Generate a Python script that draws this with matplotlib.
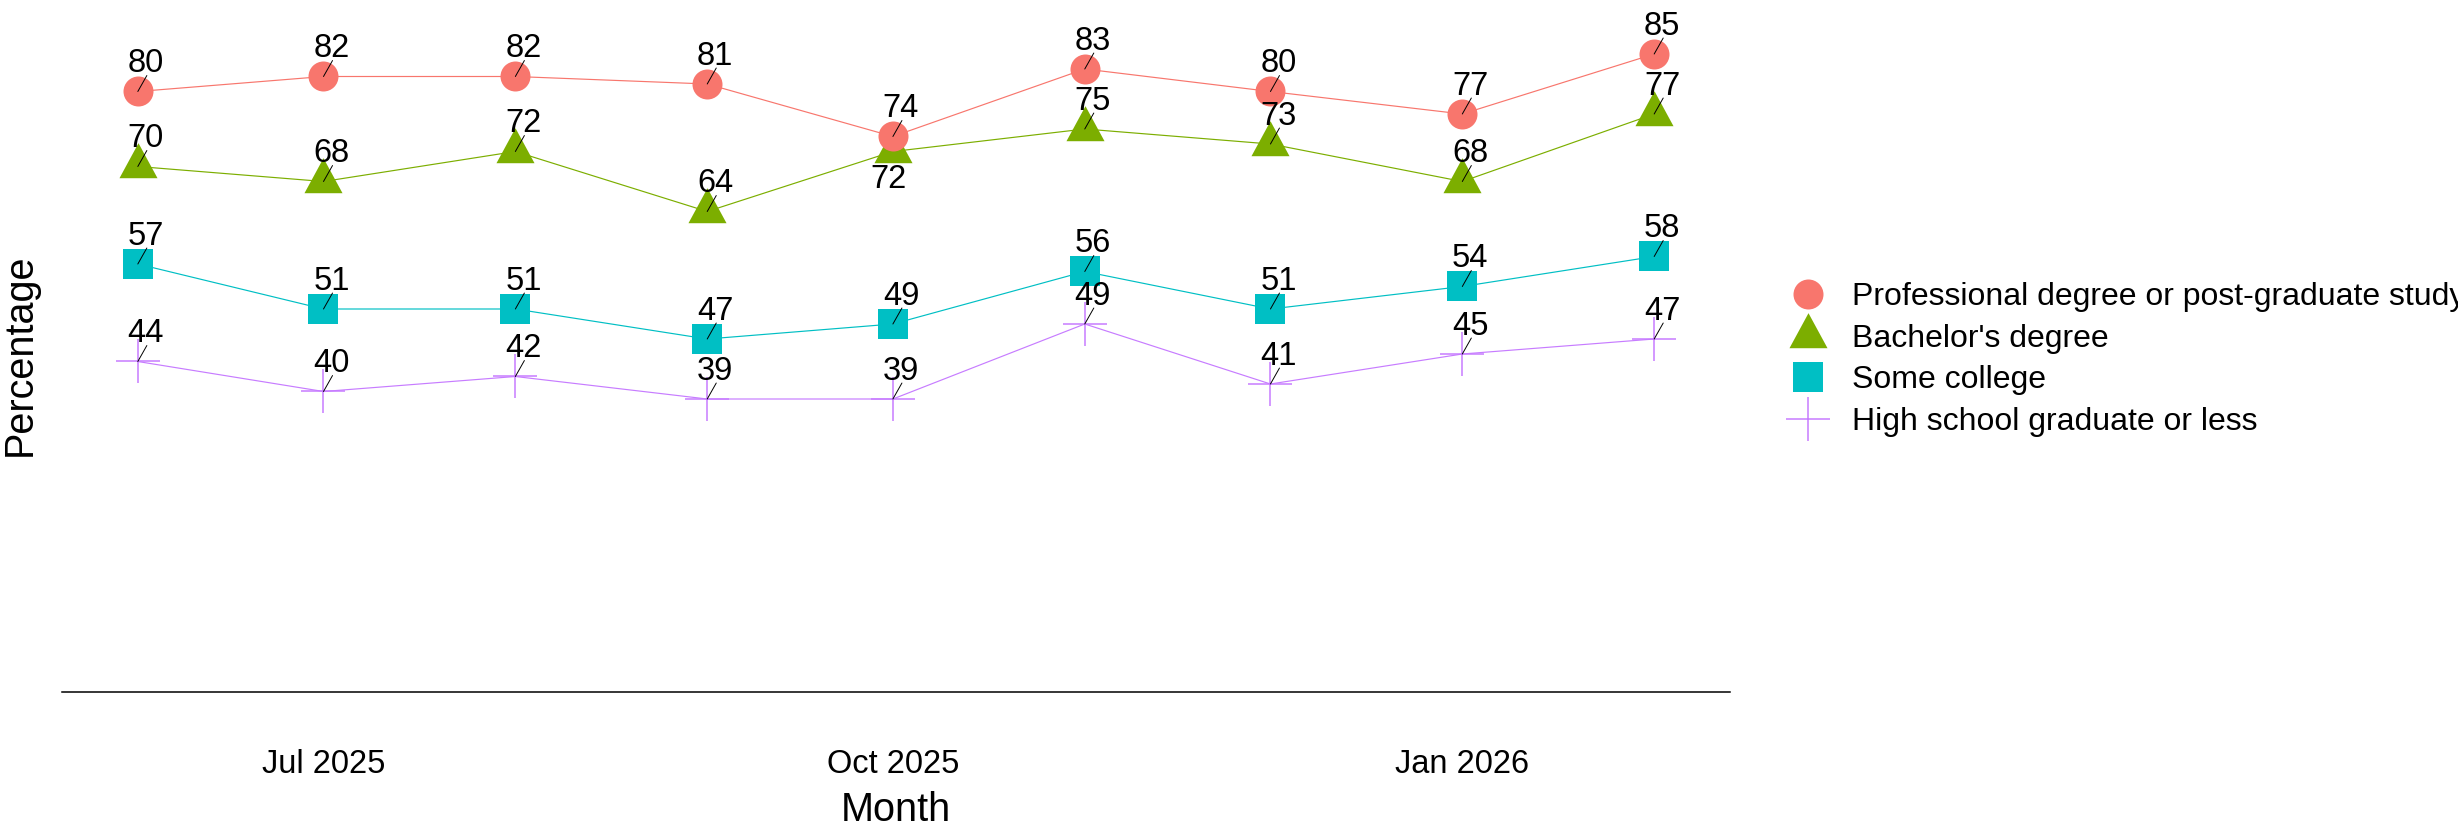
import numpy as np
import matplotlib
matplotlib.use("Agg")
import matplotlib.pyplot as plt
import matplotlib.dates as mdates
from matplotlib.lines import Line2D

plt.rcParams['font.family'] = ['Liberation Sans', 'DejaVu Sans']

# ---------------- data ----------------
months = ['2025-06-01', '2025-07-01', '2025-08-01', '2025-09-01', '2025-10-01',
          '2025-11-01', '2025-12-01', '2026-01-01', '2026-02-01']
series_names = ['Professional degree or post-graduate study', "Bachelor's degree",
                'Some college', 'High school graduate or less']
prof = [80, 82, 82, 81, 74, 83, 80, 77, 85]
bach = [70, 68, 72, 64, 72, 75, 73, 68, 77]
some = [57, 51, 51, 47, 49, 56, 51, 54, 58]
hs = [44, 40, 42, 39, 39, 49, 41, 45, 47]
tick_dates = ['2025-07-01', '2025-10-01', '2026-01-01']
tick_labels = ['Jul 2025', 'Oct 2025', 'Jan 2026']

x = np.array(months, dtype='datetime64[D]')
values = [prof, bach, some, hs]

# ---------------- styles ----------------
colors = ['#F8766D', '#7CAE00', '#00BFC4', '#C77CFF']
tri = [(0, 23.3), (-19, -11.7), (19, -11.7), (0, 23.3)]
markers = ['o', tri, 's', '+']
msizes = [21.6, 33.6, 21.6, 31.7]
mews = [0, 0, 0, 1.1]

W, H = 2458, 822
fig = plt.figure(figsize=(W / 100, H / 100), dpi=100)
left_px, right_px, bottom_px = 62, 1730, 691.5
ax = fig.add_axes([left_px / W, (H - bottom_px) / H, (right_px - left_px) / W, bottom_px / H])

# lines
for vals, c in zip(values, colors):
    ax.plot(x, vals, color=c, lw=0.85, zorder=2)

# points (draw bottom series first so circles end on top)
for i in [3, 2, 1, 0]:
    ax.plot(x, values[i], linestyle='none', marker=markers[i], ms=msizes[i],
            color=colors[i], markeredgecolor=colors[i], mew=mews[i], zorder=3 + (3 - i) * 0.1)

# value labels with short leader segments
below = {(1, 4)}
for si, vals in enumerate(values):
    for xi, (xv, v) in enumerate(zip(x, vals)):
        if (si, xi) in below:
            ax.annotate(str(v), (xv, v), xytext=(-2.9, -26.3), textcoords='offset points',
                        ha='center', va='baseline', fontsize=23.5, zorder=6)
        else:
            ax.annotate('', (xv, v), xytext=(6.5, 11.5), textcoords='offset points',
                        arrowprops=dict(arrowstyle='-', color='black', lw=0.7,
                                        shrinkA=0, shrinkB=0), zorder=5)
            ax.annotate(str(v), (xv, v), xytext=(5.8, 14.0), textcoords='offset points',
                        ha='center', va='baseline', fontsize=23.5, zorder=6)

# axes
pad = np.timedelta64(294, 'h')  # ~12.25 days expansion
ax.set_xlim(x[0] - pad, x[-1] + pad)
ax.set_ylim(0, bottom_px / 7.5)
ax.set_xticks(np.array(tick_dates, dtype='datetime64[D]'))
ax.set_xticklabels(tick_labels, fontsize=23.5)
ax.tick_params(axis='x', length=0, pad=41.5)
ax.set_yticks([])
for s in ['top', 'right', 'left']:
    ax.spines[s].set_visible(False)
ax.spines['bottom'].set_linewidth(1.1)
ax.spines['bottom'].set_color('black')
ax.patch.set_alpha(0)

fig.text(20 / W, 1 - 355 / H, 'Percentage', rotation=90, ha='center', va='center', fontsize=28.5)
fig.text(896 / W, 1.5 / H, 'Month', ha='center', va='baseline', fontsize=28.5)

# legend
handles = [Line2D([], [], linestyle='none', marker=markers[i], ms=msizes[i], color=colors[i],
                  markeredgecolor=colors[i], mew=mews[i]) for i in range(4)]
fig.legend(handles, series_names, loc='center left',
           bbox_to_anchor=(1785.7 / W, 1 - 359.5 / H), frameon=False, fontsize=23,
           handlelength=1.4, handletextpad=0.68, labelspacing=0.36,
           borderpad=0, borderaxespad=0)

fig.savefig('out.png', dpi=100)
